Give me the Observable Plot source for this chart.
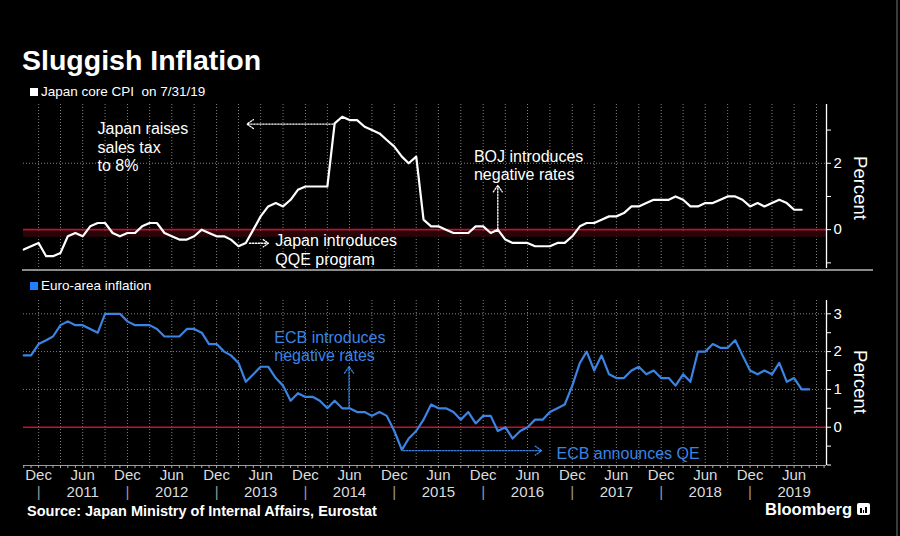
<!DOCTYPE html>
<html><head><meta charset="utf-8">
<script src="https://cdn.jsdelivr.net/npm/d3@7"></script>
<script src="https://cdn.jsdelivr.net/npm/@observablehq/plot@0.6"></script>
<style>
body{margin:0;background:#000;}
#c{position:relative;width:900px;height:536px;background:#000;overflow:hidden;font-family:"Liberation Sans",Arial,sans-serif;color:#fff;}
.abs{position:absolute;white-space:nowrap;line-height:0.8;}
svg{position:absolute;left:0;}
</style></head><body><div id="c"></div>
<script>
// ---- data (monthly, first month Oct 2010) ----
const firstMonth = "2010-10";
const japanCPI = [
  -0.6,-0.5,-0.4,
  -0.8,-0.8,-0.7,-0.2,-0.1,-0.2,0.1,0.2,0.2,-0.1,-0.2,-0.1,
  -0.1,0.1,0.2,0.2,-0.1,-0.2,-0.3,-0.3,-0.2,0.0,-0.1,-0.2,
  -0.2,-0.3,-0.5,-0.4,0.0,0.4,0.7,0.8,0.7,0.9,1.2,1.3,
  1.3,1.3,1.3,3.2,3.4,3.3,3.3,3.1,3.0,2.9,2.7,2.5,
  2.2,2.0,2.2,0.3,0.1,0.1,0.0,-0.1,-0.1,-0.1,0.1,0.1,
  -0.1,0.0,-0.3,-0.4,-0.4,-0.4,-0.5,-0.5,-0.5,-0.4,-0.4,-0.2,
  0.1,0.2,0.2,0.3,0.4,0.4,0.5,0.7,0.7,0.8,0.9,0.9,
  0.9,1.0,0.9,0.7,0.7,0.8,0.8,0.9,1.0,1.0,0.9,0.7,
  0.8,0.7,0.8,0.9,0.8,0.6,0.6
];
const euroInflation = [
  1.9,1.9,2.2,
  2.3,2.4,2.7,2.8,2.7,2.7,2.6,2.5,3.0,3.0,3.0,2.8,
  2.7,2.7,2.7,2.6,2.4,2.4,2.4,2.6,2.6,2.5,2.2,2.2,
  2.0,1.9,1.7,1.2,1.4,1.6,1.6,1.3,1.1,0.7,0.9,0.8,
  0.8,0.7,0.5,0.7,0.5,0.5,0.4,0.4,0.3,0.4,0.3,-0.1,
  -0.6,-0.3,-0.1,0.2,0.6,0.5,0.5,0.4,0.2,0.4,0.1,0.3,
  0.3,-0.1,0.0,-0.3,-0.1,0.0,0.2,0.2,0.4,0.5,0.6,1.1,
  1.7,2.0,1.5,1.9,1.4,1.3,1.3,1.5,1.6,1.4,1.5,1.3,
  1.3,1.1,1.4,1.2,2.0,2.0,2.2,2.1,2.1,2.3,1.9,1.5,
  1.4,1.5,1.4,1.7,1.2,1.3,1.0,1.0
];
const yearLabels = [2011,2012,2013,2014,2015,2016,2017,2018,2019];
const halfYearLabels = ["Dec","Jun"];
const japanTicks = [-1,0,1,2,3];
const japanTickLabels = [0,2];
const euroTicks = [-1,-0.5,0,0.5,1,1.5,2,2.5,3];
const euroTickLabels = [0,1,2,3];

const japanNotes = [
  {date:"2011-08-31", value:3.27, text:"Japan raises\nsales tax\nto 8%"},
  {date:"2013-08-30", value:-0.11, text:"Japan introduces\nQQE program"},
  {date:"2015-11-24", value:2.45, text:"BOJ introduces\nnegative rates"}
];
const japanArrows = [
  {d1:"2014-04-25", v1:3.18, d2:"2013-05-06", v2:3.18},
  {d1:"2013-05-16", v1:-0.41, d2:"2013-08-02", v2:-0.41},
  {d1:"2016-03-01", v1:0.03, d2:"2016-03-01", v2:1.33}
];
const euroNotes = [
  {date:"2013-08-26", value:2.58, text:"ECB introduces\nnegative rates"},
  {date:"2016-10-28", value:-0.48, text:"ECB announces QE"}
];
const euroArrows = [
  {d1:"2014-06-29", v1:0.53, d2:"2014-06-29", v2:1.6},
  {d1:"2015-02-08", v1:-0.62, d2:"2016-08-28", v2:-0.62}
];

// ---- build ----
const BLUE = "#3b84e4";
const start = new Date(firstMonth + "-01T00:00:00Z");
const pointDate = i => d3.utcMonth.offset(start, i + 1); // end of month
const japan = japanCPI.map((v,i)=>({date:pointDate(i), value:v}));
const euro = euroInflation.map((v,i)=>({date:pointDate(i), value:v}));
const xDomain = [new Date(Date.UTC(2010,9,31)), new Date(Date.UTC(2019,10,11))];
const quarterTicks = d3.utcMonth.every(3).range(xDomain[0], xDomain[1]);
const monthTicks = d3.utcMonth.range(xDomain[0], xDomain[1]);
const janDates = yearLabels.map(y=>new Date(Date.UTC(y,0,1)));
const julDates = yearLabels.map(y=>new Date(Date.UTC(y,6,1)));
const halfDates = [...janDates, ...julDates];
const parse = s => new Date(s + "T00:00:00Z");
const font = "Liberation Sans, Arial, sans-serif";
const style = {background:"transparent", color:"#fff", fontFamily:font, overflow:"visible"};
const grid = {stroke:"#808080", strokeOpacity:1, strokeDasharray:"1,2", strokeWidth:1};

const arrowOpts = color => ({
  x1:d=>parse(d.d1), y1:"v1", x2:d=>parse(d.d2), y2:"v2",
  stroke:color, strokeWidth:1.3, strokeDasharray:"1.5,1.5", headLength:9, headAngle:70
});
const noteOpts = color => ({
  x:d=>parse(d.date), y:"value", text:"text", textAnchor:"start", lineAnchor:"top",
  lineHeight:1.16, fontSize:16, fill:color, fontFamily:font
});

const topChart = Plot.plot({
  width:900, height:172, marginTop:4, marginBottom:4, marginLeft:23, marginRight:74,
  style,
  x:{type:"utc", domain:xDomain, axis:null, label:null},
  y:{domain:[-1.17,3.77], label:null},
  marks:[
    Plot.gridX(quarterTicks, grid),
    Plot.gridY([2], grid),
    Plot.ruleY([0], {stroke:"#2a0508", strokeWidth:6, dy:4}),
    Plot.ruleY([0], {stroke:"#c8102e", strokeWidth:1.6}),
    Plot.ruleX([xDomain[1]], {stroke:"#fff", strokeWidth:1.3}),
    Plot.axisY(japanTicks, {anchor:"right", tickSize:4, tickPadding:3, label:null,
      tickFormat:d=>japanTickLabels.includes(d)?String(d):"", fontSize:15, stroke:"#fff", fill:"#fff"}),
    Plot.arrow(japanArrows, arrowOpts("#fff")),
    Plot.text(japanNotes, noteOpts("#fff")),
    Plot.line(japan, {x:"date", y:"value", stroke:"#fff", strokeWidth:2.2, strokeLinejoin:"round"})
  ]
});

const bottomChart = Plot.plot({
  width:900, height:210, marginTop:5, marginBottom:40, marginLeft:23, marginRight:74,
  style,
  x:{type:"utc", domain:xDomain, label:null},
  y:{domain:[-1.013,3.352], label:null},
  marks:[
    Plot.gridX(quarterTicks, grid),
    Plot.gridY(euroTickLabels.filter(d=>d>0), grid),
    Plot.ruleY([0], {stroke:"#c8102e", strokeWidth:1.6}),
    Plot.ruleX([xDomain[1]], {stroke:"#fff", strokeWidth:1.3}),
    Plot.ruleY([-1.013], {stroke:"#9a9a9a", strokeWidth:1.2}),
    Plot.axisY(euroTicks, {anchor:"right", tickSize:4, tickPadding:3, label:null,
      tickFormat:d=>euroTickLabels.includes(d)?String(d):"", fontSize:15, stroke:"#fff", fill:"#fff"}),
    Plot.axisX(monthTicks, {tickSize:3, tickFormat:()=>"", stroke:"#aaa", label:null}),
    Plot.axisX(halfDates, {tickSize:0, tickPadding:4, label:null, fontSize:15, fill:"#dcdcdc",
      tickFormat:d=>halfYearLabels[d.getUTCMonth()===0?0:1]}),
    Plot.axisX(julDates, {tickSize:0, tickPadding:20.8, label:null, fontSize:15, fill:"#dcdcdc",
      tickFormat:d=>String(yearLabels[yearLabels.indexOf(d.getUTCFullYear())])}),
    Plot.axisX(janDates, {tickSize:0, tickPadding:20.8, label:null, fontSize:15, fill:"#9a9a9a",
      tickFormat:()=>"|"}),
    Plot.arrow(euroArrows, arrowOpts(BLUE)),
    Plot.text(euroNotes, noteOpts(BLUE)),
    Plot.line(euro, {x:"date", y:"value", stroke:BLUE, strokeWidth:2.2, strokeLinejoin:"round"})
  ]
});

const c = document.getElementById("c");
function addText(txt, left, baseline, size, opts={}) {
  const d = document.createElement("div");
  d.className = "abs";
  d.textContent = txt;
  d.style.left = left + "px";
  d.style.top = (baseline - 0.7465*size) + "px";
  d.style.fontSize = size + "px";
  if (opts.bold) d.style.fontWeight = "bold";
  d.style.color = opts.color || "#fff";
  c.appendChild(d);
  return d;
}
function addBox(left, top, w, h, bg, extra="") {
  const d = document.createElement("div");
  d.style.cssText = `position:absolute;left:${left}px;top:${top}px;width:${w}px;height:${h}px;background:${bg};${extra}`;
  c.appendChild(d);
  return d;
}

addText("Sluggish Inflation", 22, 70, 28.5, {bold:true});
addBox(30, 88, 8, 8, "#fff");
addText("Japan core CPI\u00a0\u00a0on 7/31/19", 41, 97, 13.5);

topChart.style.top = "100px";
c.appendChild(topChart);
addBox(22, 269, 851, 2, "#8a8a8a");

addBox(30, 282, 8, 8, "#1f7fff");
addText("Euro-area inflation", 41, 290.7, 13.5);
bottomChart.style.top = "295px";
c.appendChild(bottomChart);

for (const cy of [188, 382]) {
  const p = document.createElement("div");
  p.className = "abs";
  p.textContent = "Percent";
  p.style.cssText += `left:860px;top:${cy}px;font-size:18.5px;transform:translate(-50%,-50%) rotate(90deg);color:#fff;`;
  c.appendChild(p);
}

addText("Source: Japan Ministry of Internal Affairs, Eurostat", 27, 516.7, 14.5, {bold:true});
addText("Bloomberg", 765, 515, 16.5, {bold:true});
const icon = addBox(857, 503, 13, 12, "#fff", "border-radius:2px;");
[[3,5],[5.5,3],[8,6]].forEach(([x,h])=>{
  const b = document.createElement("div");
  b.style.cssText = `position:absolute;left:${x}px;bottom:2px;width:1.6px;height:${h}px;background:#000;`;
  icon.appendChild(b);
});
addBox(896, 0, 2, 536, "#3a3a3a");
</script></body></html>
